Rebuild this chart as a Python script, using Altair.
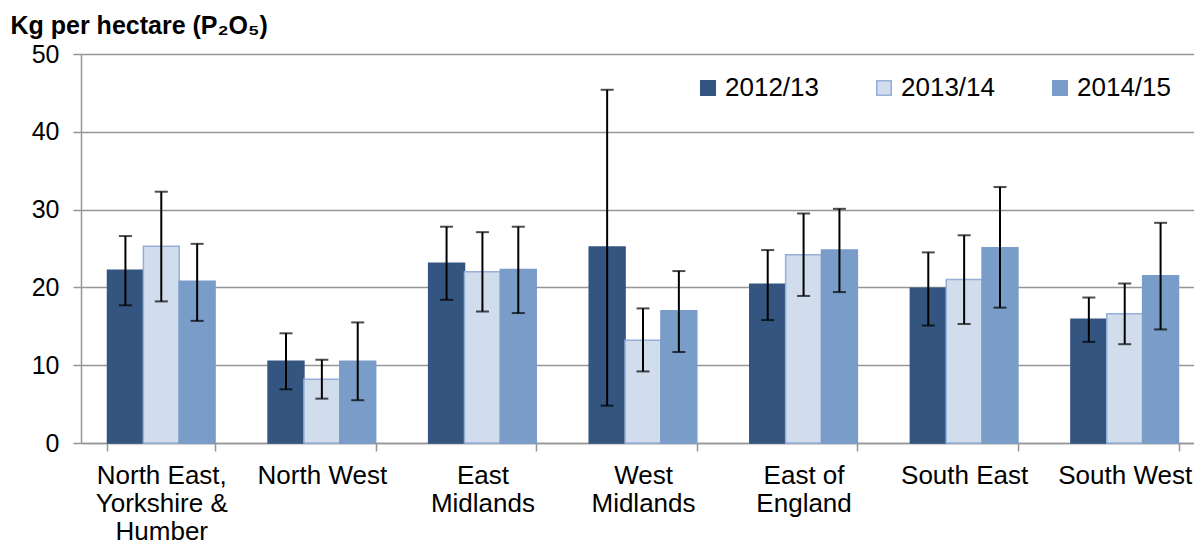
import altair as alt
import pandas as pd

regions = ["North East,|Yorkshire &|Humber", "North West", "East|Midlands", "West|Midlands",
           "East of|England", "South East", "South West"]
years = ["2012/13", "2013/14", "2014/15"]

v_1213 = [22.2, 10.5, 23.1, 25.2, 20.4, 19.9, 15.9]
lo_1213 = [17.7, 6.9, 18.4, 4.8, 15.8, 15.1, 13.0]
hi_1213 = [26.6, 14.1, 27.8, 45.4, 24.8, 24.5, 18.7]

v_1314 = [25.3, 8.2, 22.0, 13.2, 24.2, 21.0, 16.6]
lo_1314 = [18.2, 5.7, 16.9, 9.2, 18.9, 15.3, 12.7]
hi_1314 = [32.3, 10.7, 27.1, 17.3, 29.5, 26.7, 20.5]

v_1415 = [20.8, 10.5, 22.3, 17.0, 24.8, 25.1, 21.5]
lo_1415 = [15.7, 5.5, 16.7, 11.7, 19.4, 17.4, 14.6]
hi_1415 = [25.6, 15.5, 27.8, 22.1, 30.1, 32.9, 28.3]

fills = ["#34557F", "#D1DCEC", "#7A9CC9"]
strokes = ["#34557F", "#94B0D8", "#7A9CC9"]

rows = []
for yr, vals, los, his in [(years[0], v_1213, lo_1213, hi_1213),
                           (years[1], v_1314, lo_1314, hi_1314),
                           (years[2], v_1415, lo_1415, hi_1415)]:
    for r, v, lo, hi in zip(regions, vals, los, his):
        rows.append({"region": r, "year": yr, "value": v, "lo": lo, "hi": hi})
df = pd.DataFrame(rows)

FONT = "Liberation Sans"
GRID = "#969696"

x_enc = alt.X("region:N", sort=regions,
              scale=alt.Scale(paddingInner=0.33, paddingOuter=0.165),
              axis=alt.Axis(title=None, labelExpr="split(datum.label, '|')",
                            labelAngle=0, labelFontSize=26, labelFont=FONT,
                            labelColor="black", labelLineHeight=28,
                            labelPadding=11, labelBaseline="top",
                            tickBand="extent", tickSize=8, tickColor=GRID,
                            tickWidth=1.5, domainColor=GRID, domainWidth=1.5,
                            labelLimit=300, labelOverlap=False))
xo_enc = alt.XOffset("year:N", sort=years,
                     scale=alt.Scale(paddingInner=0, paddingOuter=0))
y_enc = alt.Y("value:Q",
              scale=alt.Scale(domain=[0, 50], nice=False),
              axis=alt.Axis(values=[0, 10, 20, 30, 40, 50],
                            title="Kg per hectare (P₂O₅)",
                            titleAngle=0, titleAlign="left",
                            titleBaseline="alphabetic", titleX=-71, titleY=-21,
                            titleFont=FONT, titleFontSize=25,
                            titleFontWeight="bold", titleColor="black",
                            labelFont=FONT, labelFontSize=25, labelColor="black",
                            labelPadding=14, tickSize=8, tickColor=GRID,
                            tickWidth=1.5, domainColor=GRID, domainWidth=1.5,
                            gridColor=GRID, gridWidth=1.5))

base = alt.Chart(df)

bars = base.mark_bar(strokeWidth=1.5).encode(
    x=x_enc,
    xOffset=xo_enc,
    y=y_enc,
    color=alt.Color("year:N", sort=years,
                    scale=alt.Scale(domain=years, range=fills),
                    legend=alt.Legend(title=None, orient="none", direction="horizontal",
                                      legendX=614, legendY=21,
                                      symbolType="square", symbolSize=210,
                                      symbolStrokeWidth=1.5,
                                      labelFont=FONT, labelFontSize=26,
                                      labelColor="black", labelOffset=4,
                                      columnPadding=52, labelLimit=300)),
    stroke=alt.Stroke("year:N", sort=years,
                      scale=alt.Scale(domain=years, range=strokes),
                      legend=None),
)

rules = base.mark_rule(color="black", strokeWidth=2).encode(
    x=alt.X("region:N", sort=regions),
    xOffset=xo_enc,
    y=alt.Y("lo:Q"),
    y2="hi:Q",
)
caps_lo = base.mark_tick(color="black", thickness=2, size=13).encode(
    x=alt.X("region:N", sort=regions),
    xOffset=xo_enc,
    y=alt.Y("lo:Q"),
)
caps_hi = base.mark_tick(color="black", thickness=2, size=13).encode(
    x=alt.X("region:N", sort=regions),
    xOffset=xo_enc,
    y=alt.Y("hi:Q"),
)

chart = alt.layer(bars, rules, caps_lo, caps_hi).properties(
    width=1124, height=389,
    autosize=alt.AutoSizeParams(type="none"),
    padding={"left": 73, "top": 46, "right": -11, "bottom": 104},
).configure_view(stroke=None).configure(background="white")

chart.save("out.html", embed_options={"renderer": "svg", "actions": False})
